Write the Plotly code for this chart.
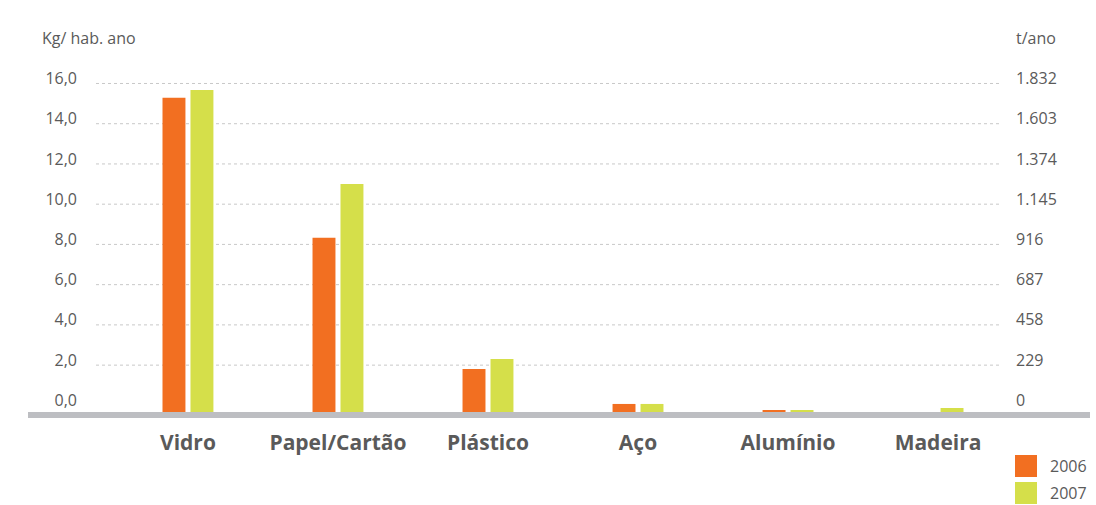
import plotly.graph_objects as go

# ── Data ───────────────────────────────────────────────────────────────────────
CATEGORIES = ["Vidro", "Papel/Cartão", "Plástico", "Aço", "Alumínio", "Madeira"]
YEARS = ["2006", "2007"]
# bar heights in kg/hab. ano, measured from the chart floor
KG_2006 = [15.62, 8.66, 2.14, 0.40, 0.10, 0.0]
KG_2007 = [16.00, 11.33, 2.63, 0.40, 0.10, 0.20]

KG_TICKS = [0, 2, 4, 6, 8, 10, 12, 14, 16]
KG_TICK_TEXT = ["0,0", "2,0", "4,0", "6,0", "8,0", "10,0", "12,0", "14,0", "16,0"]
T_TICK_TEXT = ["0", "229", "458", "687", "916", "1.145", "1.374", "1.603", "1.832"]

# ── Style ──────────────────────────────────────────────────────────────────────
_ORANGE = "#F26F21"
_GREEN = "#D5DF4A"
_TEXT = "#5A5A5A"
_GRID = "#C8C8C8"
_AXIS = "#BDBEC2"
_FONT = "Open Sans"

W, H = 1096, 505
PLOT_X0, PLOT_X1 = 96, 1000        # plot area in page pixels
PLOT_Y0, PLOT_Y1 = 70, 412
L, R = PLOT_X0, W - PLOT_X1
T, B = PLOT_Y0, H - PLOT_Y1
PW, PH = PLOT_X1 - PLOT_X0, PLOT_Y1 - PLOT_Y0
GRID_OFFSET = 0.33   # gridlines sit a little above the floor
Y_TOP = 17.0


def px_x(x):
    return (x - PLOT_X0) / PW


def px_y(y):
    return (PLOT_Y1 - y) / PH


tick_pos = [t + GRID_OFFSET for t in KG_TICKS]

fig = go.Figure()
for year, vals, color in [(YEARS[0], KG_2006, _ORANGE), (YEARS[1], KG_2007, _GREEN)]:
    fig.add_trace(go.Bar(
        x=CATEGORIES,
        y=vals,
        name=year,
        marker={"color": color, "line": {"width": 0}},
        showlegend=False,
    ))

# invisible trace so the right axis is drawn
fig.add_trace(go.Scatter(x=[CATEGORIES[0]], y=[0], yaxis="y2", mode="markers",
                         marker={"opacity": 0}, showlegend=False, hoverinfo="skip"))

shapes = []
# dotted gridlines (none at zero)
for v in tick_pos[1:]:
    shapes.append(dict(type="line", xref="paper", yref="y", x0=0, x1=1, y0=v, y1=v,
                       line={"color": _GRID, "width": 1, "dash": "dot"}, layer="below"))
# thick baseline
shapes.append(dict(type="rect", xref="paper", yref="paper", x0=px_x(28), x1=px_x(1090),
                   ysizemode="pixel", yanchor=0, y0=-6, y1=0,
                   fillcolor=_AXIS, line={"width": 0}))
# legend swatches
for y0, color in [(455, _ORANGE), (482, _GREEN)]:
    shapes.append(dict(type="rect", xref="paper", yref="paper",
                       x0=px_x(1015), x1=px_x(1037), y0=px_y(y0 + 22), y1=px_y(y0),
                       fillcolor=color, line={"width": 0}))

annotations = [
    dict(text="Kg/ hab. ano", x=px_x(40), y=px_y(38), xref="paper", yref="paper",
         xanchor="left", yanchor="middle", showarrow=False,
         font={"size": 16, "color": _TEXT, "family": _FONT}),
    dict(text="t/ano", x=px_x(1014), y=px_y(38), xref="paper", yref="paper",
         xanchor="left", yanchor="middle", showarrow=False,
         font={"size": 16, "color": _TEXT, "family": _FONT}),
]
for year, yc in [(YEARS[0], 466), (YEARS[1], 493)]:
    annotations.append(dict(text=year, x=px_x(1048), y=px_y(yc), xref="paper", yref="paper",
                            xanchor="left", yanchor="middle", showarrow=False,
                            font={"size": 16, "color": _TEXT, "family": _FONT}))

fig.update_layout(
    width=W, height=H,
    margin={"l": L, "r": R, "t": T, "b": B, "pad": 0},
    paper_bgcolor="white",
    plot_bgcolor="white",
    font={"family": _FONT, "color": _TEXT},
    barmode="group",
    bargap=0.627,
    bargroupgap=0.18,
    showlegend=False,
    xaxis={
        "type": "category",
        "range": [-0.613, 5.413],
        "showgrid": False, "showline": False, "zeroline": False,
        "ticks": "",
        "ticklabelstandoff": 16,
        "tickfont": {"size": 21, "color": _TEXT, "family": _FONT, "weight": "bold"},
    },
    yaxis={
        "range": [0, Y_TOP],
        "tickvals": tick_pos,
        "ticktext": KG_TICK_TEXT,
        "showgrid": False, "zeroline": False, "showline": False,
        "ticks": "",
        "ticklabelposition": "outside",
        "ticklabelshift": -5,
        "ticklabelstandoff": 18,
        "tickfont": {"size": 16, "color": _TEXT, "family": _FONT},
    },
    yaxis2={
        "overlaying": "y",
        "side": "right",
        "range": [0, Y_TOP],
        "tickvals": tick_pos,
        "ticktext": T_TICK_TEXT,
        "showgrid": False, "zeroline": False, "showline": False,
        "ticks": "",
        "ticklabelposition": "outside",
        "ticklabelshift": -5,
        "ticklabelstandoff": 15,
        "tickfont": {"size": 16, "color": _TEXT, "family": _FONT},
    },
    shapes=shapes,
    annotations=annotations,
)

# drop the page's default body margin so the figure fills the window
fig.write_html("out.html",
               config={"displayModeBar": False},
               post_script="document.body.style.margin='0';document.body.style.overflow='hidden';")
